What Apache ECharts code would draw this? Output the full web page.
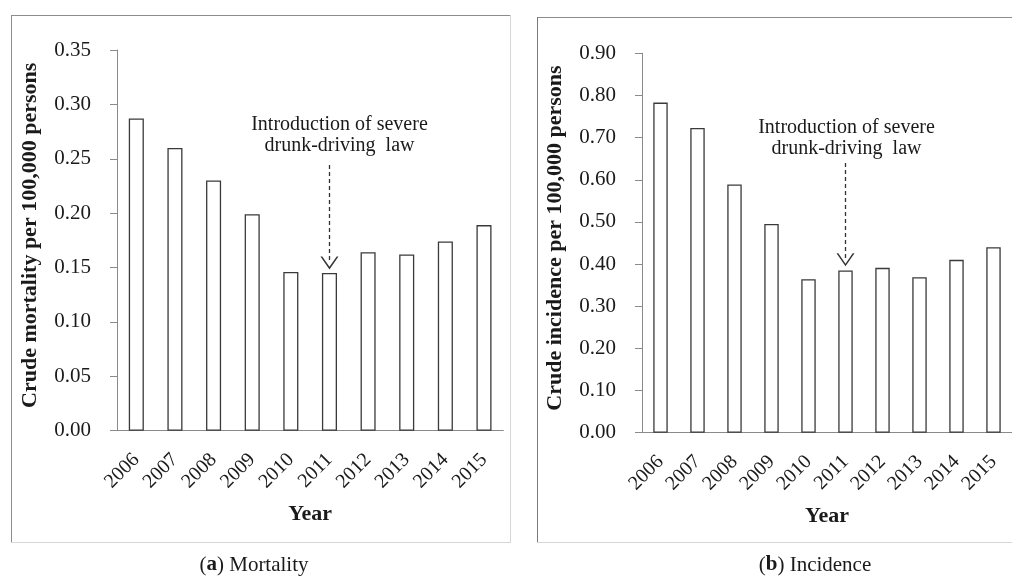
<!DOCTYPE html>
<html>
<head>
<meta charset="utf-8">
<script src="https://cdn.jsdelivr.net/npm/echarts@6/dist/echarts.min.js"></script>
<style>
html,body{margin:0;padding:0;background:#fff;}
#chart{width:1012px;height:583px;}
</style>
</head>
<body>
<div id="chart"></div>
<script>
// ---- data ----
const categories = ['2006','2007','2008','2009','2010','2011','2012','2013','2014','2015'];
const mortality = [0.287, 0.260, 0.230, 0.199, 0.146, 0.145, 0.164, 0.162, 0.174, 0.189];
const incidence = [0.783, 0.723, 0.589, 0.495, 0.364, 0.385, 0.391, 0.369, 0.410, 0.440];
const mortalityAxis = [0, 0.35, 0.05];   // min, max, interval
const incidenceAxis = [0, 0.90, 0.10];
const lawYear = '2011';
const annotationText = 'Introduction of severe\ndrunk-driving  law';
// annotation anchors (data values): [text centre, arrow start, arrow tip]
const mortalityArrow = [0.272, 0.2443, 0.1542];
const incidenceArrow = [0.699, 0.6397, 0.410];
const yTitles = ['Crude mortality per 100,000 persons', 'Crude incidence per 100,000 persons'];
const xTitle = 'Year';
const captions = [['a', ' Mortality'], ['b', ' Incidence']];

// ---- chart ----
const SERIF = '"Liberation Serif", "Times New Roman", serif';
const chevron = 'path://M10,0 L20,14 L18,14 L10,2.8 L2,14 L0,14 Z';

function xAxis(gridIndex) {
  return {
    type: 'category', gridIndex, data: categories,
    axisLine: {lineStyle: {color: '#8a8a8a', width: 1}},
    axisTick: {show: false},
    axisLabel: {rotate: 45, margin: 26, color: '#1a1a1a', fontFamily: SERIF, fontSize: 20, interval: 0},
    name: xTitle, nameLocation: 'middle', nameGap: 73,
    nameTextStyle: {fontFamily: SERIF, fontWeight: 'bold', fontSize: 22, color: '#1a1a1a'}
  };
}
function yAxis(gridIndex, ax, title, gap) {
  return {
    type: 'value', gridIndex, min: ax[0], max: ax[1], interval: ax[2],
    axisLine: {show: true, lineStyle: {color: '#8a8a8a', width: 1}},
    axisTick: {show: true, length: 7, lineStyle: {color: '#8a8a8a'}},
    splitLine: {show: false},
    axisLabel: {margin: 26, color: '#1a1a1a', fontFamily: SERIF, fontSize: 21,
      formatter: v => v.toFixed(2)},
    name: title, nameLocation: 'middle', nameGap: gap, nameRotate: 90,
    nameTextStyle: {fontFamily: SERIF, fontWeight: 'bold', fontSize: 22, color: '#1a1a1a',
      padding: [0, 0, 0, 10]}
  };
}
function barSeries(idx, values, arrow) {
  return {
    type: 'bar', xAxisIndex: idx, yAxisIndex: idx, data: values,
    barWidth: '39%',
    itemStyle: {color: '#ffffff', borderColor: '#3a3a3a', borderWidth: 1.3},
    silent: true, animation: false,
    markLine: {
      silent: true, animation: false,
      symbol: ['none', chevron],
      lineStyle: {color: '#333', width: 1.3, type: [4, 3]},
      label: {show: false},
      data: [[
        {coord: [lawYear, arrow[1]], symbol: 'none'},
        {coord: [lawYear, arrow[2]], symbol: chevron, symbolSize: [18, 13]}
      ]]
    },
    markPoint: {
      silent: true, animation: false,
      symbol: 'circle', symbolSize: 0,
      data: [{coord: [lawYear, arrow[0]]}],
      label: {show: true, position: 'inside', formatter: annotationText,
        offset: [idx === 0 ? 10 : 1, 0],
        fontFamily: SERIF, fontSize: 20, lineHeight: 21, color: '#1a1a1a', align: 'center'}
    }
  };
}
function vline(x, y1, y2, color) {
  return {type: 'line', silent: true, shape: {x1: x, y1: y1, x2: x, y2: y2}, style: {stroke: color, lineWidth: 1}};
}
function hline(y, x1, x2, color) {
  return {type: 'line', silent: true, shape: {x1: x1, y1: y, x2: x2, y2: y}, style: {stroke: color, lineWidth: 1}};
}
function caption(c, x) {
  return {type: 'text', silent: true, x: x, y: 565,
    style: {text: '(' + '{b|' + c[0] + '})' + c[1], fontFamily: SERIF, fontSize: 21, fill: '#1a1a1a',
      align: 'center', verticalAlign: 'middle',
      rich: {b: {fontFamily: SERIF, fontSize: 21, fontWeight: 'bold', fill: '#1a1a1a'}}}};
}

const chart = echarts.init(document.getElementById('chart'), null, {renderer: 'canvas'});
chart.setOption({
  backgroundColor: '#ffffff',
  animation: false,
  grid: [
    {left: 117, top: 50, width: 386.3, height: 380.7},
    {left: 642, top: 53.3, width: 373, height: 379.4}
  ],
  xAxis: [xAxis(0), xAxis(1)],
  yAxis: [yAxis(0, mortalityAxis, yTitles[0], 76), yAxis(1, incidenceAxis, yTitles[1], 76)],
  series: [barSeries(0, mortality, mortalityArrow), barSeries(1, incidence, incidenceArrow)],
  graphic: [
    hline(15.5, 11, 511, '#8c8c8c'), vline(11.5, 15, 543, '#8c8c8c'),
    vline(510.5, 15, 543, '#d6d6d6'), hline(542.5, 11, 511, '#d6d6d6'),
    hline(17.5, 537, 1012, '#8c8c8c'), vline(537.5, 17, 543, '#7a7a7a'),
    hline(542.5, 537, 1012, '#d6d6d6'),
    caption(captions[0], 254), caption(captions[1], 815)
  ]
});
</script>
</body>
</html>
